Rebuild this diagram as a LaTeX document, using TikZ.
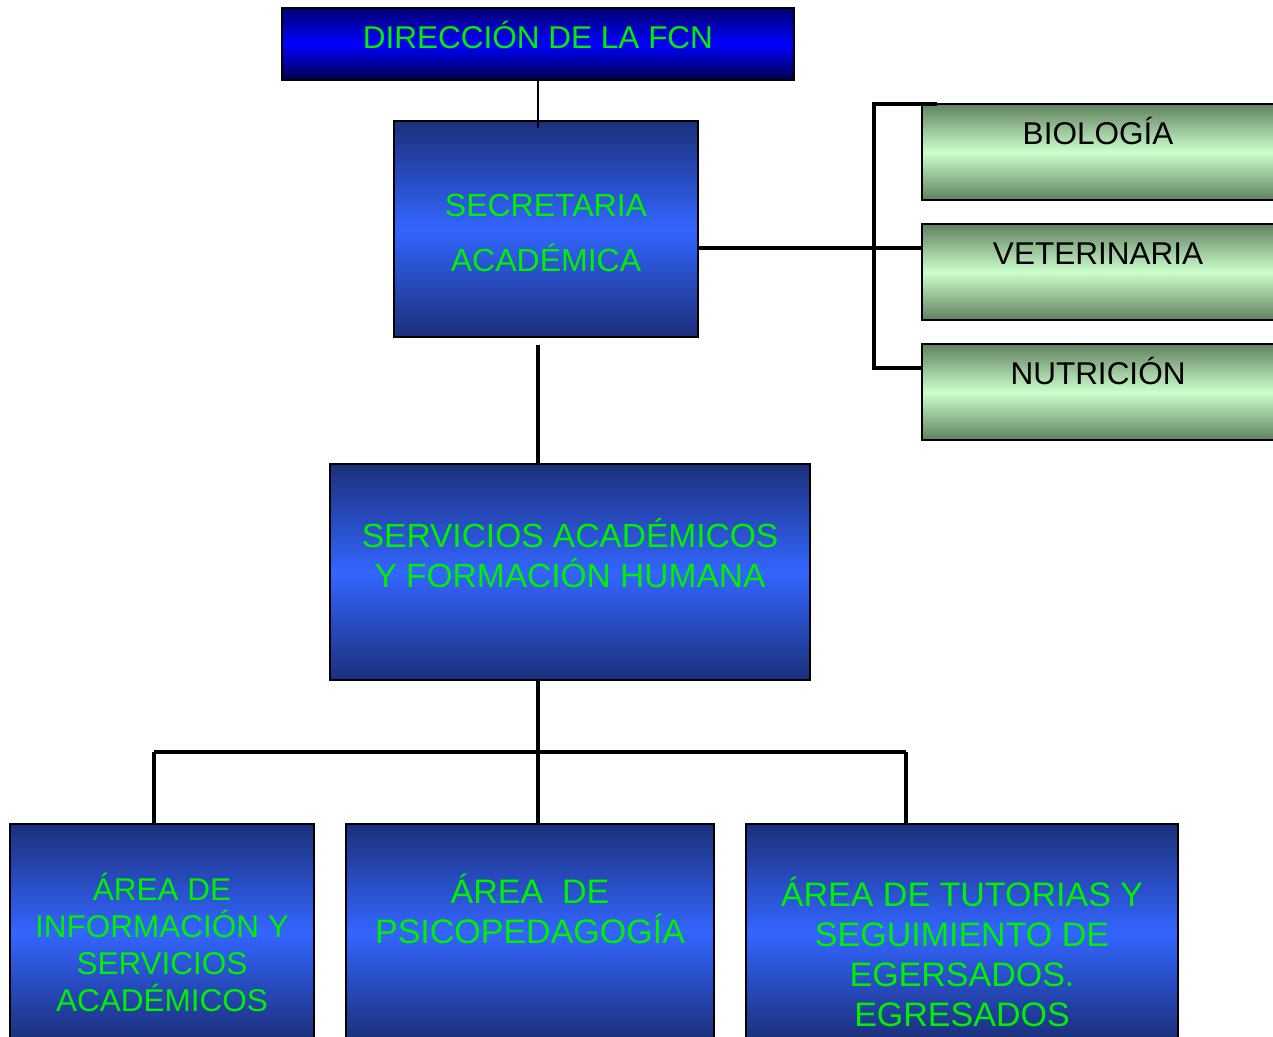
\documentclass[tikz,border=0pt]{standalone}
\usepackage{fontspec}
\setmainfont{Liberation Sans}
\usepackage{tikz}
\usetikzlibrary{positioning}
\definecolor{navy}{RGB}{27, 47, 122}
\definecolor{sky}{RGB}{51, 102, 255}
\definecolor{deepblue}{RGB}{0, 0, 112}
\definecolor{pureblue}{RGB}{0, 0, 255}
\definecolor{moss}{RGB}{96, 128, 96}
\definecolor{mint}{RGB}{204, 255, 204}
\definecolor{lime}{RGB}{0, 240, 0}
\tikzstyle{head} = [rectangle, draw=black, line width=1.5pt, top color=deepblue, bottom color=deepblue!70!black, middle color=pureblue, minimum width=512pt, minimum height=72pt, inner sep=0pt, outer sep=0pt]
\tikzstyle{unit} = [rectangle, draw=black, line width=1.5pt, top color=navy, bottom color=navy, middle color=sky, minimum height=216pt, inner sep=0pt, outer sep=0pt]
\tikzstyle{career} = [rectangle, draw=black, line width=1.5pt, top color=moss, bottom color=moss, middle color=mint, minimum width=368pt, minimum height=96pt, inner sep=0pt, outer sep=0pt]
\tikzstyle{bluetext} = [text=lime, align=center, inner sep=0pt, font=\fontsize{32}{40}\selectfont]
\tikzstyle{greentext} = [text=black, align=center, inner sep=0pt, font=\fontsize{31.5}{38}\selectfont]
\tikzstyle{tedge} = [draw, line width=3.5pt]
\tikzstyle{thinedge} = [draw, line width=1.5pt]

\begin{document}
\begin{tikzpicture}[x=1pt, y=-1pt]

\useasboundingbox (0,0) rectangle (1273,1036);
\clip (0,0) rectangle (1273,1036);

% boxes =============================

% top
\node[head] (dir) at (538,44) {};
\node[unit, minimum width=304pt] (sec) at (546,229) {};
\node[unit, minimum width=480pt] (serv) at (570,572) {};

% careers
\node[career] (bio) at (1106,152) {};
\node[career, below=24pt of bio] (veter) {};
\node[career, below=24pt of veter] (nutr) {};

% areas
\node[unit, minimum width=304pt] (areainfo) at (162,932) {};
\node[unit, minimum width=368pt, right=32pt of areainfo] (areapsi) {};
\node[unit, minimum width=432pt, right=32pt of areapsi] (areatut) {};

% texts =============================
\node[bluetext, font=\fontsize{31.5}{40}\selectfont] (dirtxt) at (538,35) {DIRECCIÓN DE LA FCN};
\node[bluetext, font=\fontsize{32}{55}\selectfont] (sectxt) at (546,233) {SECRETARIA\\ACADÉMICA};
\node[bluetext, font=\fontsize{33.5}{40}\selectfont] (servtxt) at (570,553) {SERVICIOS ACADÉMICOS\\Y FORMACIÓN HUMANA};

\node[greentext] (biotxt) at (1098,131) {BIOLOGÍA};
\node[greentext] (vetertxt) at (1098,254) {VETERINARIA};
\node[greentext] (nutrtxt) at (1098,371) {NUTRICIÓN};

\node[bluetext, font=\fontsize{31.5}{37}\selectfont] (infotxt) at (162,942) {ÁREA DE\\INFORMACIÓN Y\\SERVICIOS\\ACADÉMICOS};
\node[bluetext, font=\fontsize{34}{40}\selectfont] (psitxt) at (530,909) {ÁREA\ \ DE\\PSICOPEDAGOGÍA};
\node[bluetext, font=\fontsize{34}{40}\selectfont] (tuttxt) at (962,952) {ÁREA DE TUTORIAS Y\\SEGUIMIENTO DE\\EGERSADOS.\\EGRESADOS};

% joints
\coordinate (secin) at (538,128);
\coordinate (secout) at (538,345);
\coordinate (secr) at (698,248);
\coordinate (brtop) at (937,104);
\coordinate (brbot) at (922,368);
\coordinate (servout) at (538,680);
\coordinate (barl) at (154,752);
\coordinate (barr) at (906,752);

%edges
\path[thinedge] (dir.south) -- (secin);
\path[tedge] (secout) -- (secout |- serv.north);
\path[tedge] (secr) -- (secr -| veter.west);
\path[tedge] (brtop) -- (874,104) |- (brbot);

\path[tedge] (servout) -- (servout |- areapsi.north);
\path[tedge] (barl) -- (barr);
\path[tedge] (barl) -- (barl |- areainfo.north);
\path[tedge] (barr) -- (barr |- areatut.north);

\end{tikzpicture}
\end{document}
